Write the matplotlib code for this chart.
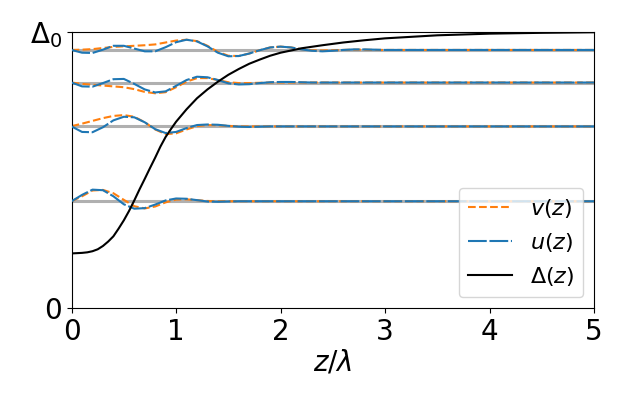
import matplotlib
matplotlib.use("Agg")
import matplotlib.pyplot as plt

# positions along z/lambda
z = [0.0, 0.1, 0.2, 0.3, 0.4, 0.5, 0.6, 0.7, 0.8, 0.9,
     1.0, 1.1, 1.2, 1.3, 1.4, 1.5, 1.6, 1.7, 1.8, 1.9,
     2.0, 2.1, 2.2, 2.3, 2.4, 2.5, 2.6, 2.7, 2.8, 2.9,
     3.0, 3.5, 4.0, 4.5, 5.0]

# bound-state levels (units of Delta_0)
levels = [0.935, 0.817, 0.658, 0.387]

# Delta(z), sampled a bit finer where it bends
z_delta = [0.0, 0.1, 0.15, 0.2, 0.25, 0.3, 0.35, 0.4, 0.45, 0.5,
           0.55, 0.6, 0.65, 0.7, 0.75, 0.8, 0.85, 0.9, 0.95, 1.0,
           1.1, 1.2, 1.3, 1.4, 1.5, 1.6, 1.7, 1.8, 1.9, 2.0,
           2.2, 2.4, 2.6, 2.8, 3.0, 3.5, 4.0, 4.5, 5.0]
delta = [0.198, 0.200, 0.202, 0.206, 0.213, 0.225, 0.241, 0.26, 0.288, 0.318,
         0.352, 0.39, 0.43, 0.468, 0.507, 0.545, 0.585, 0.62, 0.648, 0.675,
         0.72, 0.76, 0.792, 0.82, 0.845, 0.866, 0.885, 0.90, 0.914, 0.925,
         0.941, 0.952, 0.962, 0.970, 0.977, 0.988, 0.994, 0.997, 0.999]

# u(z) per level
u1 = [0.935, 0.925, 0.924, 0.936, 0.950, 0.950, 0.940, 0.930, 0.930, 0.945,
      0.963, 0.972, 0.966, 0.948, 0.925, 0.912, 0.913, 0.922, 0.934, 0.944,
      0.947, 0.944, 0.937, 0.932, 0.930, 0.932, 0.935, 0.937, 0.937, 0.936,
      0.935] + [0.935] * 4
u2 = [0.817, 0.803, 0.802, 0.815, 0.829, 0.830, 0.812, 0.792, 0.781, 0.785,
      0.805, 0.826, 0.838, 0.836, 0.826, 0.814, 0.810, 0.811, 0.815, 0.818,
      0.819, 0.819, 0.818] + [0.817] * 12
u3 = [0.658, 0.638, 0.637, 0.655, 0.680, 0.693, 0.691, 0.673, 0.648, 0.634,
      0.638, 0.652, 0.663, 0.665, 0.664, 0.660, 0.657, 0.656, 0.657, 0.658] + [0.658] * 15
u4 = [0.387, 0.410, 0.429, 0.427, 0.405, 0.376, 0.360, 0.362, 0.375, 0.390,
      0.397, 0.396, 0.391, 0.386, 0.385, 0.386] + [0.387] * 19

# v(z) per level
v1 = [0.935, 0.936, 0.938, 0.942, 0.946, 0.948, 0.950, 0.952, 0.955, 0.962,
      0.969, 0.972, 0.967, 0.950, 0.928, 0.914, 0.913, 0.922, 0.934, 0.944,
      0.947, 0.944, 0.938, 0.934, 0.933, 0.934, 0.935, 0.936, 0.936, 0.935,
      0.935] + [0.935] * 4
v2 = [0.817, 0.812, 0.809, 0.806, 0.803, 0.800, 0.793, 0.783, 0.778, 0.782,
      0.800, 0.820, 0.833, 0.833, 0.826, 0.818, 0.815, 0.815, 0.816, 0.817] + [0.817] * 15
v3 = [0.659, 0.668, 0.678, 0.688, 0.696, 0.699, 0.693, 0.673, 0.647, 0.630,
      0.633, 0.647, 0.659, 0.663, 0.662, 0.660, 0.658] + [0.658] * 18
v4 = [0.387, 0.405, 0.426, 0.428, 0.416, 0.392, 0.369, 0.361, 0.368, 0.383,
      0.393, 0.394, 0.391, 0.388] + [0.387] * 21

us = [u1, u2, u3, u4]
vs = [v1, v2, v3, v4]

fig = plt.figure(figsize=(6.28, 3.95), dpi=100)
ax = fig.add_axes([0.114, 0.22, 0.832, 0.699])

for lev in levels:
    ax.axhline(lev, color="#b0b0b0", lw=2.2, zorder=1)

for i in range(len(levels)):
    ax.plot(z, vs[i], color="C1", ls="--", lw=1.5, zorder=2,
            label="$v(z)$" if i == 0 else None)
    ax.plot(z, us[i], color="C0", lw=1.5, dashes=(9, 1.3), zorder=3,
            label="$u(z)$" if i == 0 else None)

ax.plot(z_delta, delta, color="black", lw=1.5, zorder=4, label=r"$\Delta(z)$")

ax.set_xlim(0, 5)
ax.set_ylim(0, 1)
ax.set_yticks([0, 1])
ax.set_yticklabels(["0", r"$\Delta_0$"])
ax.set_xticks([0, 1, 2, 3, 4, 5])
ax.tick_params(labelsize=20)
ax.set_xlabel(r"$z/\lambda$", fontsize=20, labelpad=2)
ax.legend(loc="lower right", fontsize=16)

fig.savefig("out.png", dpi=100)
